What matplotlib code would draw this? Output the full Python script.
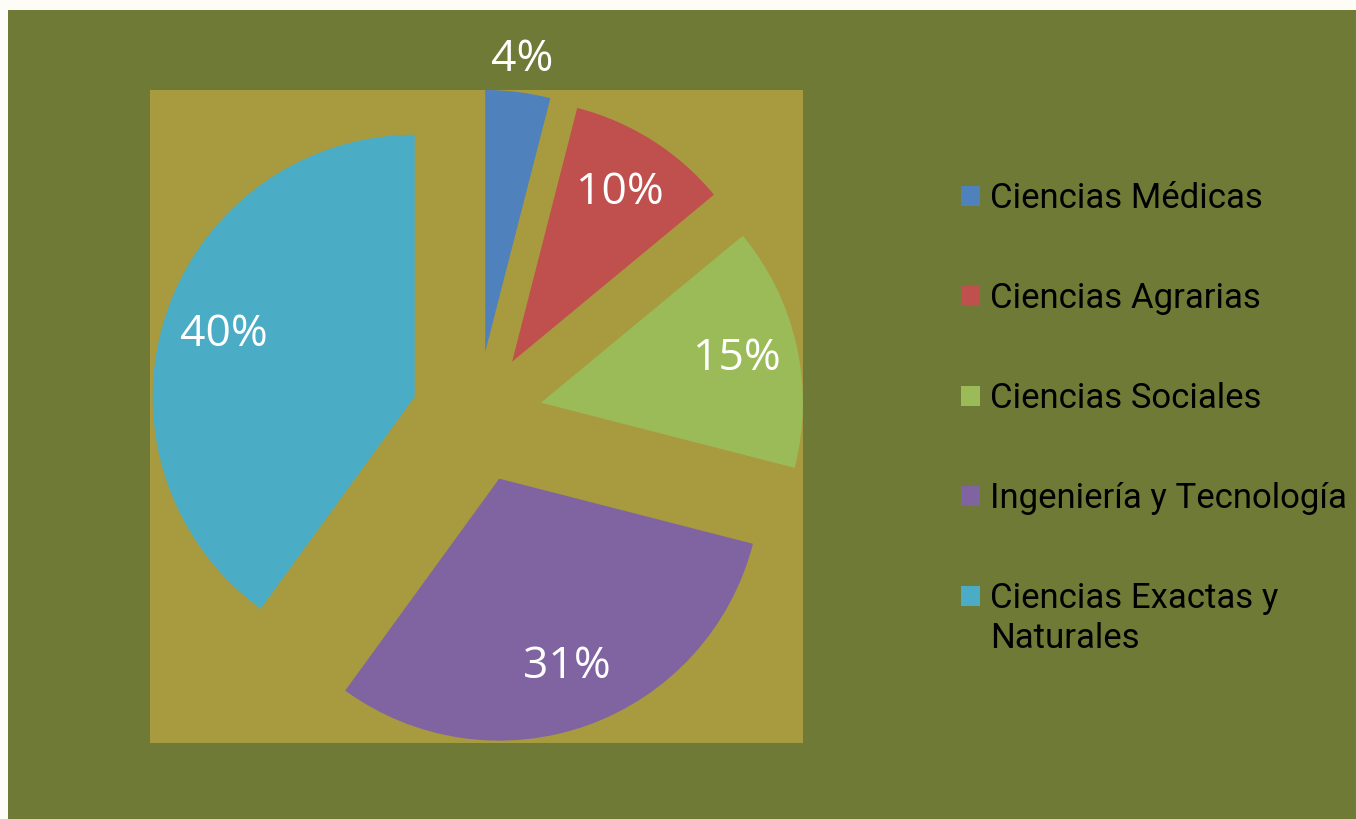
import matplotlib
matplotlib.use("Agg")
import matplotlib.pyplot as plt
from matplotlib.patches import Rectangle
import numpy as np

categories = ["Ciencias Médicas", "Ciencias Agrarias", "Ciencias Sociales",
              "Ingeniería y Tecnología", "Ciencias Exactas y Naturales"]
values = [4, 10, 15, 31, 40]
colors = ["#4F81BD", "#C0504D", "#9BBB59", "#8064A2", "#4BACC6"]
legend_labels = ["Ciencias Médicas", "Ciencias Agrarias", "Ciencias Sociales",
                 "Ingeniería y Tecnología", "Ciencias Exactas y\nNaturales"]

LEG_FONT = "Roboto"
PCT_FONT = "Open Sans"
W, H = 1356, 819
fig = plt.figure(figsize=(W / 100, H / 100), dpi=100)
fig.patch.set_facecolor("#FDFCF6")

# chart background (olive)
bg = fig.add_axes([8 / W, 0, 1 - 8 / W, 1 - 10 / H])
bg.set_facecolor("#707A37")
bg.set_xticks([]); bg.set_yticks([])
for s in bg.spines.values():
    s.set_visible(False)

# plot area
x0, x1, y0, y1 = 150, 803, 90, 743
ax = fig.add_axes([x0 / W, 1 - y1 / H, (x1 - x0) / W, (y1 - y0) / H])
ax.set_facecolor("#A89A3E")
for s in ax.spines.values():
    s.set_visible(False)
ax.set_xticks([]); ax.set_yticks([])

cx, cy, r = 477, 417, 262
wedges, texts, autotexts = ax.pie(
    values, colors=colors, startangle=90, counterclock=False,
    explode=[0.25] * len(values), radius=1.0,
    autopct=lambda p: f"{p:.0f}%", pctdistance=0.765,
    wedgeprops=dict(linewidth=0),
    textprops=dict(color="white", fontsize=32, family=PCT_FONT),
)
ax.set_xlim((x0 - cx) / r, (x1 - cx) / r)
ax.set_ylim(-(y1 - cy) / r, (cy - y0) / r)
ax.set_aspect("equal")
ax.set_frame_on(True)
ax.patch.set_visible(True)

# small slice label placed outside
w = wedges[0]
th = np.deg2rad((w.theta1 + w.theta2) / 2)
autotexts[0].set_position((w.center[0] + 1.124 * np.cos(th), w.center[1] + 1.124 * np.sin(th)))
autotexts[0].set_clip_on(False)

# legend
baselines = [208, 308, 408, 508, 608]
line_step = 40
for lab, col, yb in zip(legend_labels, colors, baselines):
    fig.patches.append(Rectangle((961 / W, 1 - (yb - 2) / H), 19 / W, 20 / H,
                                 transform=fig.transFigure, facecolor=col,
                                 edgecolor="none"))
    for k, line in enumerate(lab.split("\n")):
        fig.text(990 / W, 1 - (yb + k * line_step) / H, line, fontsize=25,
                 family=LEG_FONT, color="black", va="baseline", ha="left")

fig.savefig("out.png", dpi=100, facecolor=fig.get_facecolor())
